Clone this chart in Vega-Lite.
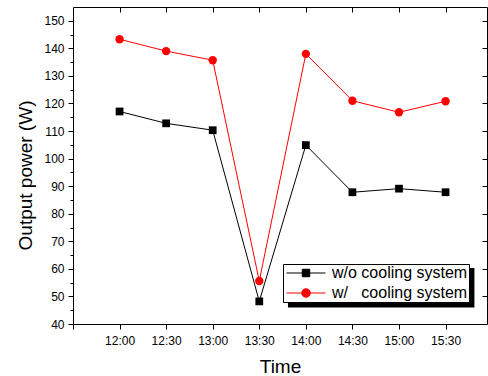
{
  "$schema": "https://vega.github.io/schema/vega-lite/v6.json",
  "width": 414,
  "height": 317,
  "autosize": {"type": "none"},
  "padding": {"left": 73, "top": 7, "right": 1, "bottom": 52},
  "background": "white",
  "config": {
    "view": {"stroke": null},
    "font": "Liberation Sans",
    "axis": {
      "labelFont": "Liberation Sans",
      "titleFont": "Liberation Sans",
      "labelColor": "black",
      "titleColor": "black",
      "domainColor": "black",
      "tickColor": "black",
      "domainWidth": 1,
      "tickWidth": 1,
      "grid": false,
      "titleFontWeight": "normal",
      "labelFontSize": 12
    },
    "legend": {
      "orient": "none",
      "legendX": 210,
      "legendY": 257,
      "title": null,
      "strokeColor": "black",
      "fillColor": "white",
      "padding": 1,
      "labelFont": "Liberation Sans",
      "labelFontSize": 16,
      "labelColor": "black",
      "symbolSize": 100,
      "symbolStrokeWidth": 1,
      "symbolOpacity": 1,
      "symbolOffset": 14,
      "labelOffset": 18,
      "rowPadding": 4
    }
  },
  "data": {
    "values": [
      {"time": 12.0, "series": "w/o cooling system", "power": 117.1},
      {"time": 12.5, "series": "w/o cooling system", "power": 112.8},
      {"time": 13.0, "series": "w/o cooling system", "power": 110.3},
      {"time": 13.5, "series": "w/o cooling system", "power": 48.2},
      {"time": 14.0, "series": "w/o cooling system", "power": 104.9},
      {"time": 14.5, "series": "w/o cooling system", "power": 87.8},
      {"time": 15.0, "series": "w/o cooling system", "power": 89.1},
      {"time": 15.5, "series": "w/o cooling system", "power": 87.8},
      {"time": 12.0, "series": "w/\u00a0\u00a0\u00a0cooling system", "power": 143.3},
      {"time": 12.5, "series": "w/\u00a0\u00a0\u00a0cooling system", "power": 139.0},
      {"time": 13.0, "series": "w/\u00a0\u00a0\u00a0cooling system", "power": 135.7},
      {"time": 13.5, "series": "w/\u00a0\u00a0\u00a0cooling system", "power": 55.6},
      {"time": 14.0, "series": "w/\u00a0\u00a0\u00a0cooling system", "power": 138.0},
      {"time": 14.5, "series": "w/\u00a0\u00a0\u00a0cooling system", "power": 121.0},
      {"time": 15.0, "series": "w/\u00a0\u00a0\u00a0cooling system", "power": 116.8},
      {"time": 15.5, "series": "w/\u00a0\u00a0\u00a0cooling system", "power": 120.8}
    ]
  },
  "layer": [
    {
      "data": {"values": [{}]},
      "mark": {"type": "rect", "color": "black"},
      "encoding": {
        "x": {"datum": 13.808, "type": "quantitative", "axis": null},
        "x2": {"datum": 15.81},
        "y": {"datum": 60.31, "type": "quantitative", "axis": null},
        "y2": {"datum": 46.0}
      }
    },
    {
      "mark": {"type": "line", "strokeWidth": 1},
      "encoding": {
        "x": {
          "field": "time", "type": "quantitative",
          "scale": {"domain": [11.5, 15.945], "nice": false, "zero": false},
          "axis": {
            "orient": "bottom",
            "values": [11.5, 12, 12.5, 13, 13.5, 14, 14.5, 15, 15.5],
            "labelExpr": "datum.value < 11.9 ? '' : floor(datum.value) + ':' + (datum.value % 1 ? '30' : '00')",
            "tickSize": 5,
            "labelPadding": 6,
            "title": "Time",
            "titleFontSize": 19,
            "titlePadding": 11
          }
        },
        "y": {
          "field": "power", "type": "quantitative",
          "scale": {"domain": [40, 155], "nice": false, "zero": false},
          "axis": {
            "orient": "left",
            "values": [40, 45, 50, 55, 60, 65, 70, 75, 80, 85, 90, 95, 100, 105, 110, 115, 120, 125, 130, 135, 140, 145, 150],
            "labelExpr": "datum.value % 10 === 0 ? datum.label : ''",
            "tickSize": {"condition": {"test": "datum.value % 10 === 0", "value": 5}, "value": 3},
            "labelPadding": 4,
            "title": "Output power (W)",
            "titleFontSize": 19,
            "titlePadding": 8,
            "titleY": 168
          }
        },
        "color": {
          "field": "series", "type": "nominal",
          "scale": {"domain": ["w/o cooling system", "w/\u00a0\u00a0\u00a0cooling system"], "range": ["#000000", "#ff0000"]}
        }
      }
    },
    {
      "transform": [{"filter": "datum.series === 'w/o cooling system'"}],
      "mark": {"type": "point", "filled": true, "opacity": 1, "shape": "square", "size": 60},
      "encoding": {
        "x": {"field": "time", "type": "quantitative", "axis": null},
        "y": {"field": "power", "type": "quantitative", "axis": null},
        "color": {"field": "series", "type": "nominal"}
      }
    },
    {
      "transform": [{"filter": "datum.series !== 'w/o cooling system'"}],
      "mark": {"type": "point", "filled": true, "opacity": 1, "shape": "circle", "size": 70},
      "encoding": {
        "x": {"field": "time", "type": "quantitative", "axis": null},
        "y": {"field": "power", "type": "quantitative", "axis": null},
        "color": {"field": "series", "type": "nominal"}
      }
    },
    {
      "mark": {"type": "point", "filled": true, "opacity": 0},
      "encoding": {
        "x": {
          "field": "time", "type": "quantitative",
          "axis": {"orient": "top", "values": [12, 12.5, 13, 13.5, 14, 14.5, 15, 15.5], "labels": false, "tickSize": -5, "title": null}
        },
        "y": {
          "field": "power", "type": "quantitative",
          "axis": {"orient": "right", "values": [40, 50, 60, 70, 80, 90, 100, 110, 120, 130, 140, 150], "labels": false, "tickSize": -5, "title": null}
        },
        "color": {"field": "series", "type": "nominal"},
        "shape": {
          "field": "series", "type": "nominal",
          "scale": {
            "domain": ["w/o cooling system", "w/\u00a0\u00a0\u00a0cooling system"],
            "range": ["M-3.9,0H3.9M-0.75,-0.75H0.75V0.75H-0.75Z", "M-3.9,0H3.9M-0.85,0A0.85,0.85,0,1,0,0.85,0A0.85,0.85,0,1,0,-0.85,0Z"]
          }
        }
      }
    }
  ],
  "resolve": {"axis": {"x": "independent", "y": "independent"}}
}
